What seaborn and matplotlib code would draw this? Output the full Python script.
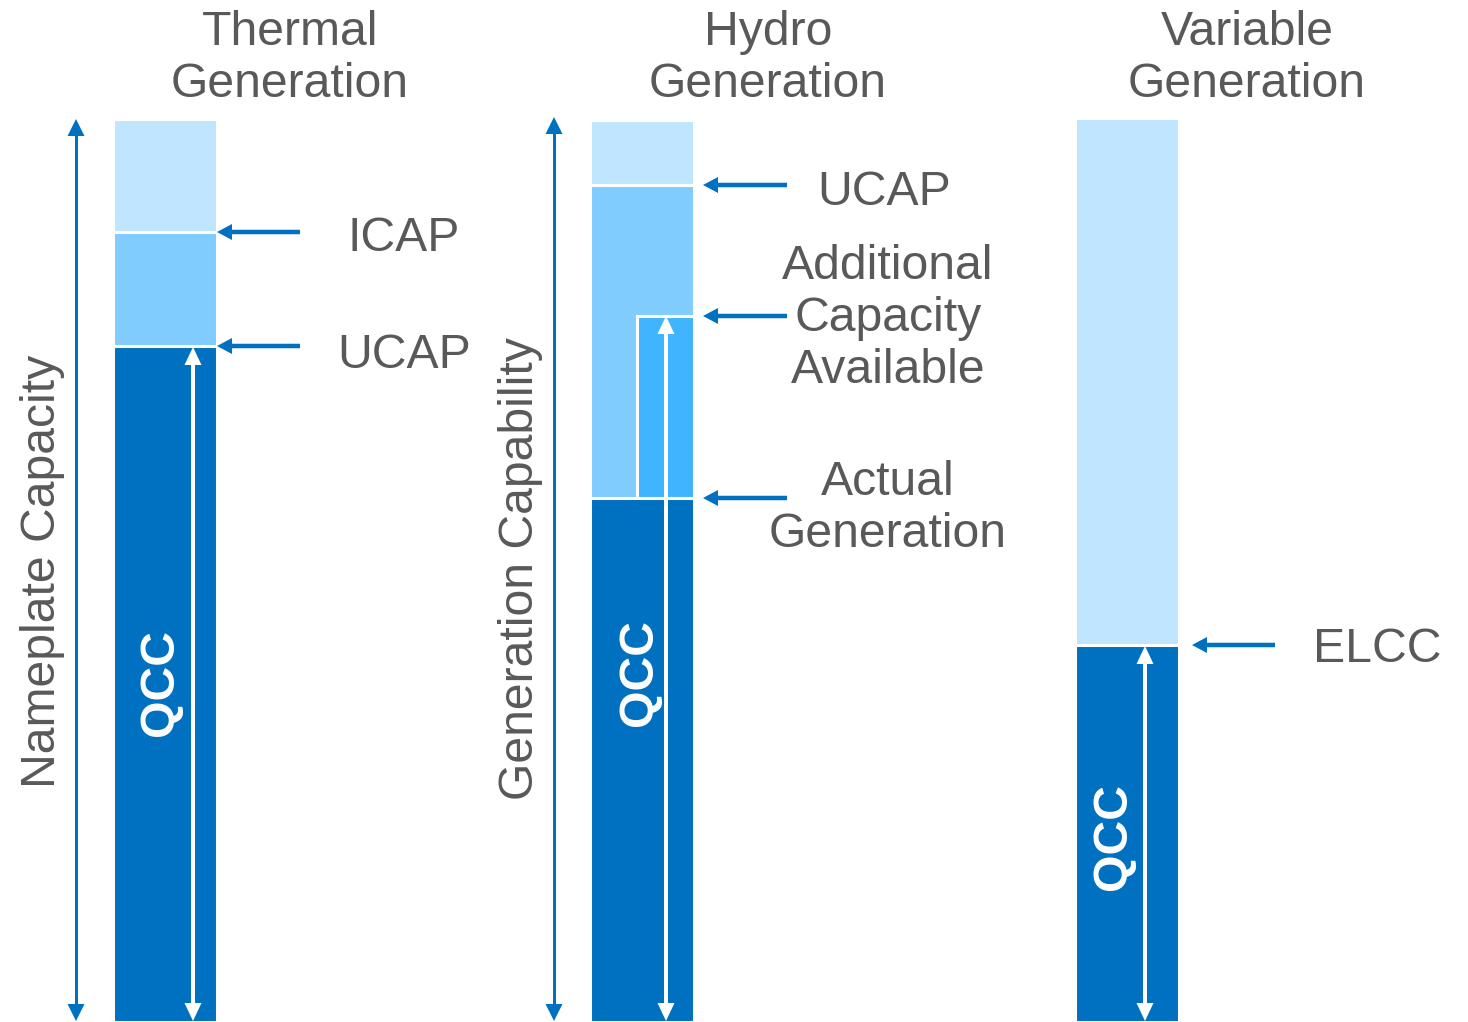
import numpy as np
import matplotlib
matplotlib.use("Agg")
import matplotlib.pyplot as plt
import seaborn as sns

# ---------------- data (capacity units; bars start at 0) ----------------
resources = ["Thermal\nGeneration", "Hydro\nGeneration", "Variable\nGeneration"]
total_capacity = [903, 902, 904]      # nameplate capacity / generation capability
ucap_level = [790, 837]               # thermal, hydro medium segment tops
additional_capacity = [706]           # hydro additional capacity available
qcc_level = [676, 524, 377]           # dark (QCC) segment tops

thermal_marks = [790, 676]
thermal_labels = ["ICAP", "UCAP"]
hydro_marks = [837, 706, 524]
hydro_labels = ["UCAP", "Additional\nCapacity\nAvailable", "Actual\nGeneration"]
variable_marks = [377]
variable_labels = ["ELCC"]
side_labels = ["Nameplate Capacity", "Generation Capability"]
bar_text = "QCC"

# ---------------- style ----------------
DARK = "#0070C0"
MEDIUM = "#80CCFF"
INNER = "#41B4FF"
LIGHT = "#C0E6FF"
GREY = "#595959"

sns.set_theme(style="white")
plt.rcParams["font.family"] = ["Liberation Sans", "DejaVu Sans"]

W, H = 1468, 1022
fig = plt.figure(figsize=(W / 100, H / 100), dpi=100)
ax = fig.add_axes([0, 0, 1, 1])

# layout (pixel-like positions)
bar_x = [164.5, 642, 1127]
bar_w = 104
inner_x = [665.5]
inner_w = 57
spacing = np.min(np.diff(bar_x))

common = dict(native_scale=True, orient="x", saturation=1, edgecolor="white",
              linewidth=2.2, ax=ax, errorbar=None)

sns.barplot(x=bar_x, y=total_capacity, color=LIGHT, width=bar_w / spacing, **common)
sns.barplot(x=bar_x[:2], y=ucap_level, color=MEDIUM,
            width=bar_w / np.min(np.diff(bar_x[:2])), **common)
sns.barplot(x=inner_x, y=additional_capacity, color=INNER, width=inner_w, **common)
sns.barplot(x=bar_x, y=qcc_level, color=DARK, width=bar_w / spacing, **common)


def double_arrow(x, y0, y1, color, shaft, hw, hl):
    # shaft as one line, heads as separate triangles
    ax.vlines(x, y0 + hl - 1, y1 - hl + 1, color=color, linewidth=shaft * 0.72, zorder=5)
    ax.arrow(x, y0 + hl, 0, -hl, width=0.01, head_width=hw, head_length=hl,
             length_includes_head=True, color=color, lw=0, zorder=5)
    ax.arrow(x, y1 - hl, 0, hl, width=0.01, head_width=hw, head_length=hl,
             length_includes_head=True, color=color, lw=0, zorder=5)


# blue capacity arrows at the left of thermal & hydro
double_arrow(76, 1, total_capacity[0], DARK, 3, 17, 17)
double_arrow(554, 1, total_capacity[1] + 3, DARK, 3, 17, 17)
# white QCC arrows inside the bars
double_arrow(193, 1, qcc_level[0] - 1, "white", 4, 17, 18)
double_arrow(666, 1, additional_capacity[0], "white", 4, 17, 18)
double_arrow(1145, 1, qcc_level[2] - 1, "white", 4, 17, 18)


# pointer arrows
def pointer(x_from, x_to, y):
    ax.arrow(x_from, y, x_to - x_from, 0, width=4.5, head_width=16, head_length=15,
             length_includes_head=True, color=DARK, lw=0, zorder=5)


for y in thermal_marks:
    pointer(300, 217, y)
for y in hydro_marks:
    pointer(787, 703, y)
for y in variable_marks:
    pointer(1275, 1192, y)

FS = 34.7
# labels
thermal_label_y = [784, 667]
for t, y in zip(thermal_labels, thermal_label_y):
    ax.text(404, y, t, ha="center", va="center", fontsize=FS, color=GREY)
hydro_label_x = [884, 888, 888]
hydro_label_y = [830, 704, 514]
for t, x, y in zip(hydro_labels, hydro_label_x, hydro_label_y):
    ax.text(x, y, t, ha="center", va="center", fontsize=FS, color=GREY)
for t in variable_labels:
    ax.text(1377, 373, t, ha="center", va="center", fontsize=FS, color=GREY)

# titles
title_x = [290, 768, 1247]
for t, x in zip(resources, title_x):
    ax.text(x, 964, t, ha="center", va="center", fontsize=FS, color=GREY)

# side labels
side_x = [42.5, 520.5]
side_y = [451, 453]
for t, x, y in zip(side_labels, side_x, side_y):
    ax.text(x, y, t, ha="center", va="center", rotation=90, fontsize=FS, color=GREY)

# QCC labels inside bars
qcc_x = [160.5, 639.5, 1113.5]
qcc_y = [339.5, 349.5, 186]
for x, y in zip(qcc_x, qcc_y):
    ax.text(x, y, bar_text, ha="center", va="center", rotation=90, fontsize=FS,
            color="white", fontweight="bold", zorder=6)

ax.set_xlim(0, W)
ax.set_ylim(0, H)
ax.set_axis_off()

fig.savefig("out.png", dpi=100)
